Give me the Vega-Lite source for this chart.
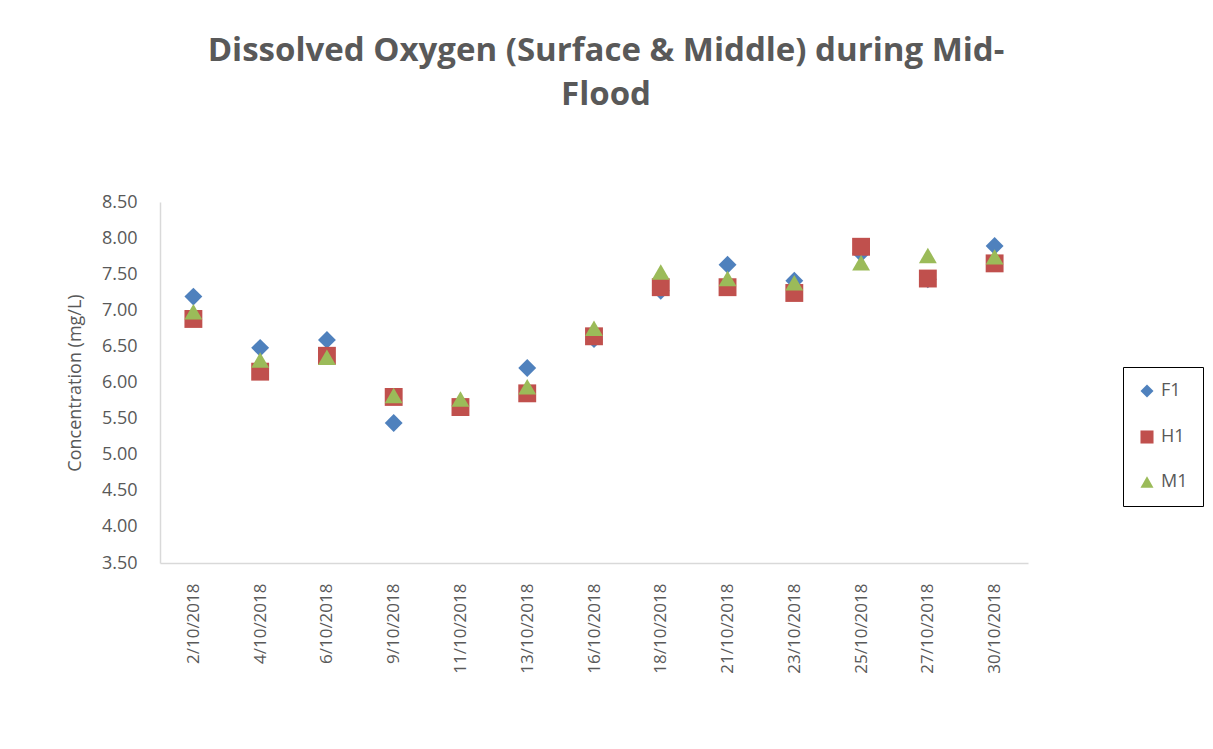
{
  "$schema": "https://vega.github.io/schema/vega-lite/v6.json",
  "width": 868,
  "height": 361,
  "autosize": {"type": "none"},
  "padding": {"left": 160, "top": 202, "right": 185, "bottom": 186},
  "background": "white",
  "title": {
    "text": ["Dissolved Oxygen (Surface & Middle) during Mid-", "Flood"],
    "font": "Open Sans",
    "fontSize": 33,
    "fontWeight": "bold",
    "color": "#595959",
    "lineHeight": 44,
    "anchor": "middle",
    "frame": "group",
    "baseline": "alphabetic",
    "offset": 55,
    "dx": 12
  },
  "data": {
    "values": [
      {"date": "2/10/2018", "site": "F1", "value": 7.19},
      {"date": "4/10/2018", "site": "F1", "value": 6.48},
      {"date": "6/10/2018", "site": "F1", "value": 6.59},
      {"date": "9/10/2018", "site": "F1", "value": 5.44},
      {"date": "11/10/2018", "site": "F1", "value": 5.68},
      {"date": "13/10/2018", "site": "F1", "value": 6.20},
      {"date": "16/10/2018", "site": "F1", "value": 6.60},
      {"date": "18/10/2018", "site": "F1", "value": 7.27},
      {"date": "21/10/2018", "site": "F1", "value": 7.63},
      {"date": "23/10/2018", "site": "F1", "value": 7.41},
      {"date": "25/10/2018", "site": "F1", "value": 7.79},
      {"date": "27/10/2018", "site": "F1", "value": 7.43},
      {"date": "30/10/2018", "site": "F1", "value": 7.89},
      {"date": "2/10/2018", "site": "H1", "value": 6.88},
      {"date": "4/10/2018", "site": "H1", "value": 6.15},
      {"date": "6/10/2018", "site": "H1", "value": 6.37},
      {"date": "9/10/2018", "site": "H1", "value": 5.80},
      {"date": "11/10/2018", "site": "H1", "value": 5.66},
      {"date": "13/10/2018", "site": "H1", "value": 5.85},
      {"date": "16/10/2018", "site": "H1", "value": 6.64},
      {"date": "18/10/2018", "site": "H1", "value": 7.32},
      {"date": "21/10/2018", "site": "H1", "value": 7.32},
      {"date": "23/10/2018", "site": "H1", "value": 7.24},
      {"date": "25/10/2018", "site": "H1", "value": 7.88},
      {"date": "27/10/2018", "site": "H1", "value": 7.44},
      {"date": "30/10/2018", "site": "H1", "value": 7.65},
      {"date": "2/10/2018", "site": "M1", "value": 6.98},
      {"date": "4/10/2018", "site": "M1", "value": 6.31},
      {"date": "6/10/2018", "site": "M1", "value": 6.35},
      {"date": "9/10/2018", "site": "M1", "value": 5.82},
      {"date": "11/10/2018", "site": "M1", "value": 5.77},
      {"date": "13/10/2018", "site": "M1", "value": 5.94},
      {"date": "16/10/2018", "site": "M1", "value": 6.75},
      {"date": "18/10/2018", "site": "M1", "value": 7.53},
      {"date": "21/10/2018", "site": "M1", "value": 7.44},
      {"date": "23/10/2018", "site": "M1", "value": 7.38},
      {"date": "25/10/2018", "site": "M1", "value": 7.66},
      {"date": "27/10/2018", "site": "M1", "value": 7.76},
      {"date": "30/10/2018", "site": "M1", "value": 7.74}
    ]
  },
  "mark": {"type": "point", "filled": true, "opacity": 1, "size": 320},
  "encoding": {
    "x": {
      "field": "date",
      "type": "nominal",
      "sort": null,
      "scale": {"paddingInner": 0, "paddingOuter": 0.5},
      "axis": {
        "title": null,
        "labelAngle": 270,
        "labelAlign": "right",
        "labelBaseline": "middle",
        "labelPadding": 20,
        "labelFont": "Open Sans",
        "labelFontSize": 17,
        "labelColor": "#595959",
        "ticks": false,
        "domainColor": "#d9d9d9",
        "domainWidth": 1.5,
        "grid": false
      }
    },
    "y": {
      "field": "value",
      "type": "quantitative",
      "scale": {"domain": [3.5, 8.5], "nice": false, "zero": false},
      "axis": {
        "title": "Concentration (mg/L)",
        "titleFont": "Open Sans",
        "titleFontSize": 18,
        "titleFontWeight": "normal",
        "titleColor": "#595959",
        "titlePadding": 17,
        "values": [3.5, 4, 4.5, 5, 5.5, 6, 6.5, 7, 7.5, 8, 8.5],
        "format": ".2f",
        "labelFont": "Open Sans",
        "labelFontSize": 18,
        "labelColor": "#595959",
        "labelPadding": 23,
        "ticks": false,
        "domainColor": "#d9d9d9",
        "domainWidth": 1.5,
        "grid": false
      }
    },
    "color": {
      "field": "site",
      "type": "nominal",
      "scale": {"domain": ["F1", "H1", "M1"], "range": ["#4F81BD", "#C0504D", "#9BBB59"]},
      "legend": {
        "title": null,
        "orient": "none",
        "legendX": 963,
        "legendY": 165,
        "strokeColor": "#000000",
        "padding": 15,
        "rowPadding": 26,
        "symbolSize": 170,
        "symbolOpacity": 1,
        "labelFont": "Open Sans",
        "labelFontSize": 18,
        "labelColor": "#595959",
        "labelOffset": 5
      }
    },
    "shape": {
      "field": "site",
      "type": "nominal",
      "scale": {"domain": ["F1", "H1", "M1"], "range": ["diamond", "square", "triangle-up"]}
    }
  },
  "config": {
    "view": {"stroke": null}
  }
}
